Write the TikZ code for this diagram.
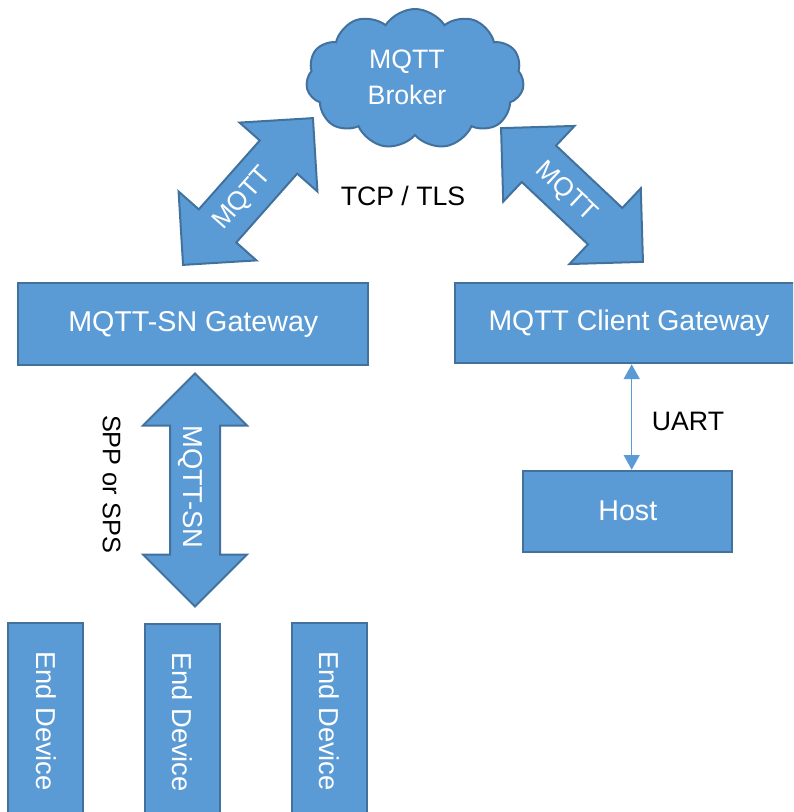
\documentclass[tikz,border=0pt]{standalone}
\usepackage{fontspec}
\setmainfont{Liberation Sans}
\usetikzlibrary{shapes.symbols,arrows.meta}
\definecolor{boxfill}{HTML}{5B9BD5}
\definecolor{boxline}{HTML}{41719C}

% Double-headed block arrow: centre, angle, half length
\newcommand\blockarrow[3]{%
  \begin{scope}[shift={#1},rotate=#2]
    \draw[blk] (-#3,0) -- (-#3+52,52) -- (-#3+52,25) -- (#3-52,25) -- (#3-52,52)
      -- (#3,0) -- (#3-52,-52) -- (#3-52,-25) -- (-#3+52,-25) -- (-#3+52,-52) -- cycle;
  \end{scope}}

\begin{document}
\begin{tikzpicture}[x=0.75pt,y=-0.75pt,
  box/.style={draw=boxline,fill=boxfill,line width=1.5pt,text=white,inner sep=0pt,
    font=\fontsize{20.5}{27}\selectfont},
  blk/.style={draw=boxline,fill=boxfill,line width=1.5pt,line join=miter},
  wtxt/.style={text=white,inner sep=0pt,font=\fontsize{19.5}{24}\selectfont},
  lbl/.style={text=black,inner sep=0pt,font=\fontsize{20}{24}\selectfont},
  uart/.style={draw=boxfill,line width=0.9pt,
    {Triangle[width=12pt,length=11pt]}-{Triangle[width=12pt,length=11pt]}},
]
\useasboundingbox (0,0) rectangle (793,812);
\clip (0,0) rectangle (793,812);

% broker cloud
\node[box,cloud,cloud puffs=11,cloud puff arc=115,cloud ignores aspect,
  minimum width=163.5pt,minimum height=105pt] (broker) at (415,79) {};
\node[wtxt,align=center,font=\fontsize{20}{27}\selectfont] (brokertxt) at (407,77) {MQTT\\Broker};

% gateways and host
\node[box,minimum width=262.5pt,minimum height=61.3pt,font=\fontsize{21.5}{27}\selectfont] (sngw) at (193.3,324.2) {MQTT-SN Gateway};
\node[box,minimum width=261pt,minimum height=60.5pt,font=\fontsize{21.3}{27}\selectfont] (cgw) at (629,323) {MQTT Client Gateway};
\node[box,minimum width=156.75pt,minimum height=60.75pt,font=\fontsize{21.5}{27}\selectfont] (host) at (627.8,511.2) {Host};

% end devices
\node[box,rotate=-90,minimum width=147.75pt,minimum height=56.25pt] (ed1) at (45.8,721) {End Device};
\node[box,rotate=-90,minimum width=147.75pt,minimum height=56.25pt] (ed2) at (182.5,722) {End Device};
\node[box,rotate=-90,minimum width=147.75pt,minimum height=55.8pt] (ed3) at (329.5,721) {End Device};

% block arrows
\blockarrow{(248,191.5)}{48.5}{98}
\node[wtxt,rotate=48.5] (mq1) at (243,199) {MQTT};
\blockarrow{(572,195)}{-43.3}{97.5}
\node[wtxt,rotate=-43.3] (mq2) at (566,192) {MQTT};
\blockarrow{(195,490)}{90}{116.5}
\node[wtxt,rotate=-90,font=\fontsize{20.5}{24}\selectfont] (mqsn) at (190,487) {MQTT-SN};

% link labels
\node[lbl] (tcp) at (403,196) {TCP / TLS};
\node[lbl,rotate=-90,font=\fontsize{19}{24}\selectfont] (spp) at (111.7,484) {SPP or SPS};
\node[lbl] (uartlbl) at (688,421.7) {UART};

% serial link between client gateway and host
\coordinate (ux) at (631.7,0);
\draw[uart] (cgw.south -| ux) -- (host.north -| ux);
\end{tikzpicture}
\end{document}
